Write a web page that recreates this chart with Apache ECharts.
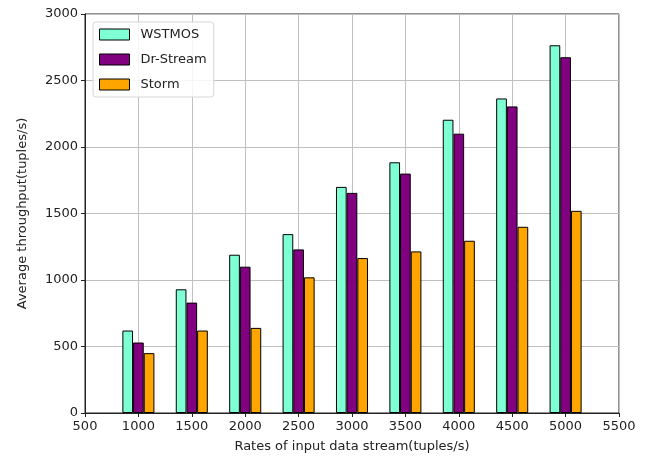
<!DOCTYPE html>
<html>
<head>
<meta charset="utf-8">
<script src="https://cdn.jsdelivr.net/npm/echarts@6/dist/echarts.min.js"></script>
<style>html,body{margin:0;padding:0;background:#fff}#c{width:650px;height:461px}</style>
</head>
<body>
<div id="c"></div>
<script>
const rates = [1000, 1500, 2000, 2500, 3000, 3500, 4000, 4500, 5000];
const wstmos = [620, 930, 1190, 1345, 1700, 1885, 2205, 2365, 2765];
const drStream = [530, 830, 1100, 1230, 1655, 1800, 2100, 2305, 2675];
const storm = [450, 620, 640, 1020, 1165, 1215, 1295, 1400, 1520];
const seriesNames = ['WSTMOS', 'Dr-Stream', 'Storm'];
const colors = ['#7FFFD4', '#800080', '#FFA500'];

const chart = echarts.init(document.getElementById('c'), null, {renderer: 'canvas'});
const font = 'DejaVu Sans';
function mk(name, vals, color) {
  return {
    name: name, type: 'bar', barWidth: '20%', barGap: '0%',
    data: rates.map((r, i) => [r, vals[i]]),
    itemStyle: {color: color, borderColor: '#000', borderWidth: 1, borderRadius: 0},
    animation: false
  };
}
chart.setOption({
  animation: false,
  grid: {left: 85, right: 31, top: 14, bottom: 48, show: true, borderColor: '#222', borderWidth: 1, containLabel: false},
  legend: {
    orient: 'vertical', left: 93, top: 22, padding: [6, 7, 6, 6],
    itemWidth: 30, itemHeight: 11, itemGap: 12, icon: 'rect',
    backgroundColor: 'rgba(255,255,255,0.85)', borderColor: '#d6d6d6', borderWidth: 1, borderRadius: 3,
    textStyle: {fontFamily: font, fontSize: 13, color: '#222', padding: [0, 0, 0, 6]},
    itemStyle: {borderColor: '#000', borderWidth: 1},
    data: seriesNames
  },
  xAxis: {
    type: 'value', min: 500, max: 5500, interval: 500,
    name: 'Rates of input data stream(tuples/s)', nameLocation: 'middle', nameGap: 27,
    nameTextStyle: {fontFamily: font, fontSize: 13, color: '#222'},
    axisLine: {show: true, lineStyle: {color: '#222'}},
    axisTick: {show: true, length: 4, lineStyle: {color: '#222'}},
    axisLabel: {fontFamily: font, fontSize: 13, color: '#222', margin: 7, formatter: v => String(v)},
    splitLine: {show: true, lineStyle: {color: '#c0c0c0', width: 1}}
  },
  yAxis: {
    type: 'value', min: 0, max: 3000, interval: 500,
    name: 'Average throughput(tuples/s)', nameLocation: 'middle', nameGap: 56,
    nameTextStyle: {fontFamily: font, fontSize: 13, color: '#222'},
    axisLine: {show: true, lineStyle: {color: '#222'}},
    axisTick: {show: true, length: 4, lineStyle: {color: '#222'}},
    axisLabel: {fontFamily: font, fontSize: 13, color: '#222', margin: 7, formatter: v => String(v)},
    splitLine: {show: true, lineStyle: {color: '#c0c0c0', width: 1}}
  },
  series: [mk(seriesNames[0], wstmos, colors[0]), mk(seriesNames[1], drStream, colors[1]), mk(seriesNames[2], storm, colors[2])]
});
</script>
</body>
</html>
